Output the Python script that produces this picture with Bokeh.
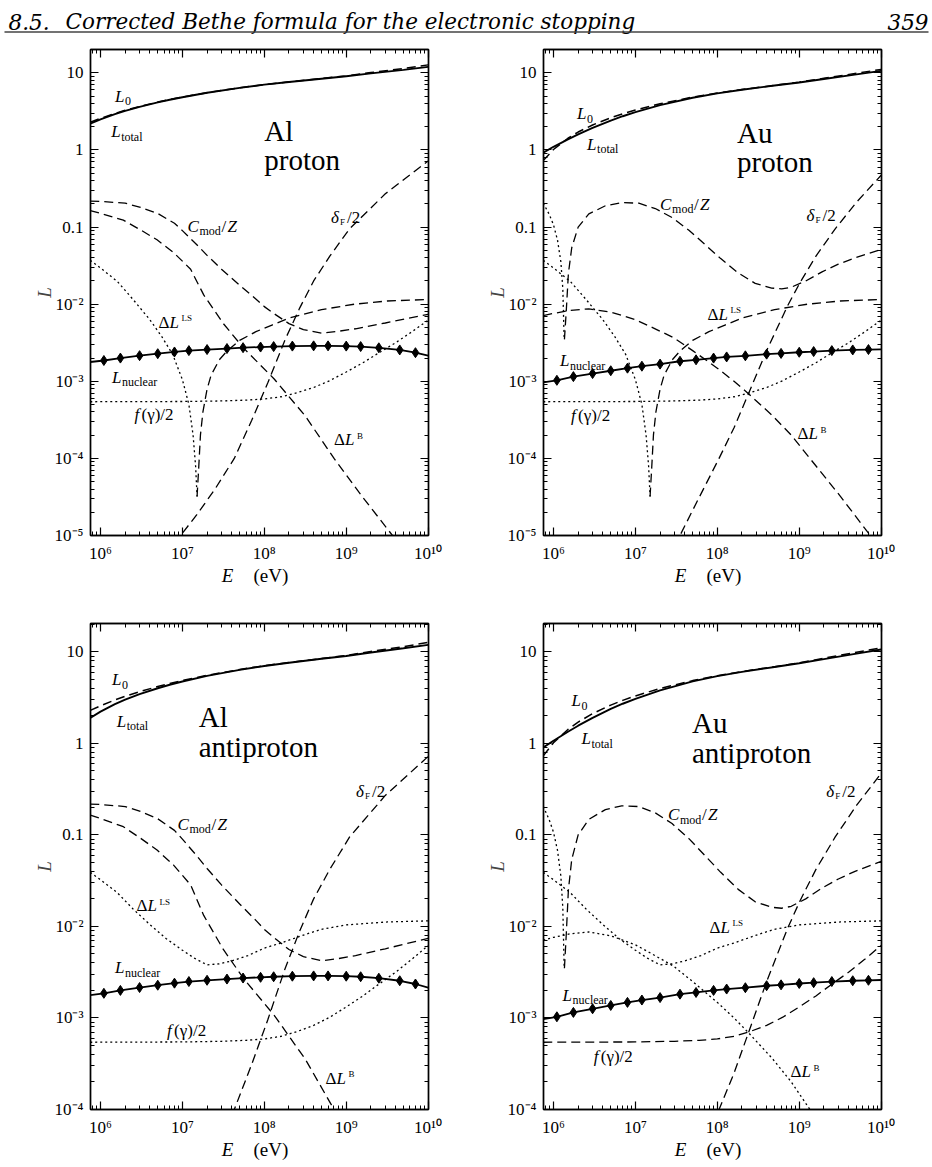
from bokeh.plotting import figure
from bokeh.models import LogAxis, FixedTicker, CustomJSTickFormatter, Range1d
from bokeh.layouts import column, row
from bokeh.embed import file_html
from bokeh.resources import INLINE
from bokeh.core.properties import value

FONT = "Liberation Serif"
HFONT = "DejaVu Serif"

# ---------------- axis ticks ----------------
X_TICKS = [1e6, 1e7, 1e8, 1e9, 1e10]
X_TICK_LABELS = ["10⁶", "10⁷", "10⁸", "10⁹", "10¹⁰"]
Y_TICKS_TOP = [1e-5, 1e-4, 1e-3, 1e-2, 0.1, 1, 10]
Y_TICK_LABELS_TOP = ["10⁻⁵", "10⁻⁴", "10⁻³", "10⁻²", "0.1", "1", "10"]
Y_TICKS_BOT = [1e-4, 1e-3, 1e-2, 0.1, 1, 10]
Y_TICK_LABELS_BOT = ["10⁻⁴", "10⁻³", "10⁻²", "0.1", "1", "10"]

# ---------------- data (E in eV) ----------------
E_L0 = [7.5e5, 1e6, 1.5e6, 2e6, 3e6, 5e6, 7e6, 1e7, 2e7, 5e7, 1e8, 2e8, 5e8, 1e9, 2e9, 5e9, 1e10]
AL_L0 = [2.29, 2.57, 2.98, 3.27, 3.67, 4.18, 4.51, 4.86, 5.54, 6.41, 7.05, 7.65, 8.45, 9.14, 10.1, 11.4, 12.7]
AL_P_LTOT = [2.20, 2.50, 2.92, 3.22, 3.63, 4.14, 4.48, 4.83, 5.52, 6.39, 7.03, 7.62, 8.40, 9.03, 9.85, 10.95, 11.95]
AL_PB_LTOT = [1.90, 2.22, 2.68, 3.00, 3.45, 4.00, 4.37, 4.74, 5.46, 6.36, 7.00, 7.60, 8.40, 9.02, 9.85, 10.95, 11.9]
AU_L0 = [0.73, 1.015, 1.42, 1.71, 2.11, 2.62, 2.95, 3.30, 3.98, 4.85, 5.49, 6.09, 6.89, 7.58, 8.52, 9.89, 11.08]
AU_P_LTOT = [0.92, 1.10, 1.37, 1.59, 1.93, 2.41, 2.74, 3.10, 3.81, 4.76, 5.43, 6.05, 6.85, 7.50, 8.33, 9.55, 10.6]
AU_PB_LTOT = [0.90, 1.07, 1.34, 1.56, 1.90, 2.38, 2.71, 3.07, 3.79, 4.75, 5.42, 6.04, 6.84, 7.50, 8.33, 9.55, 10.6]

AL_CMOD_E = [7.5e5, 1e6, 2e6, 3e6, 5e6, 8e6, 1e7, 1.5e7, 2e7, 3e7, 5e7, 8e7, 1e8, 1.3e8, 2e8, 3e8, 5e8, 8e8, 1.3e9, 3e9, 1e10]
AL_CMOD = [0.217, 0.215, 0.204, 0.182, 0.150, 0.112, 0.090, 0.059, 0.043, 0.0284, 0.0176, 0.0115, 0.0093, 0.0076,
           0.0056, 0.00468, 0.00422, 0.00445, 0.0048, 0.0057, 0.0074]

AL_BARKAS_E = [7.5e5, 1e6, 1.9e6, 3.1e6, 4.9e6, 7.8e6, 1.26e7, 1.82e7, 3.16e7, 5.6e7, 1.32e8, 3.16e8, 7.1e8, 1.58e9, 4e9]
AL_BARKAS = [0.164, 0.151, 0.123, 0.0916, 0.0684, 0.0468, 0.0284, 0.0132, 0.0056, 0.00269, 0.00107, 0.000355, 0.0001, 3.16e-5, 8.9e-6]

AL_DELTA_E = [8e6, 9.5e6, 1.5e7, 2.5e7, 4.3e7, 7e7, 1.1e8, 1.8e8, 2.7e8, 4e8, 6.3e8, 1.1e9, 3e9, 1e10]
AL_DELTA = [7.8e-6, 1.0e-5, 1.86e-5, 4.0e-5, 1.0e-4, 3.1e-4, 9.5e-4, 3.5e-3, 8.9e-3, 0.02, 0.042, 0.095, 0.27, 0.72]

FGAM_E = [7.5e5, 1e7, 3e7, 6e7, 1e8, 1.6e8, 2.5e8, 4e8, 6.3e8, 1e9, 1.6e9, 2.5e9, 4e9, 6.3e9, 1e10]
FGAM = [5.43e-4, 5.47e-4, 5.56e-4, 5.7e-4, 5.9e-4, 6.3e-4, 7.1e-4, 8.3e-4, 1.02e-3, 1.32e-3, 1.74e-3, 2.34e-3, 3.16e-3, 4.37e-3, 6.2e-3]

LS_P_NEG_E = [7.5e5, 1e6, 1.6e6, 2.5e6, 4e6, 5.6e6, 7.6e6, 1e7, 1.2e7, 1.35e7, 1.45e7, 1.51e7]
LS_P_NEG = [0.0372, 0.0295, 0.0198, 0.0115, 0.0063, 0.0038, 0.00224, 0.00105, 0.0005, 0.0002, 7.9e-5, 3.2e-5]
LS_P_POS_E = [1.51e7, 1.585e7, 1.66e7, 1.78e7, 2.0e7, 2.24e7, 2.82e7, 3.55e7, 5.0e7, 7.9e7, 1.26e8, 2.0e8, 5.0e8, 1.26e9, 3.16e9, 1e10]
LS_P_POS = [3.2e-5, 7.9e-5, 2.0e-4, 4.0e-4, 7.9e-4, 1.2e-3, 1.9e-3, 2.5e-3, 3.4e-3, 4.4e-3, 5.4e-3, 6.6e-3, 8.5e-3, 0.01, 0.011, 0.0115]

LS_PB_E = [7.5e5, 1e6, 1.6e6, 2.5e6, 4e6, 6.3e6, 1e7, 1.4e7, 2e7, 2.8e7, 4e7, 6.3e7, 1e8, 1.6e8, 3.2e8, 5e8, 1e9, 3.2e9, 1e10]
LS_PB = [0.039, 0.0324, 0.0234, 0.0155, 0.0105, 0.0074, 0.0055, 0.0045, 0.0038, 0.0039, 0.0042, 0.0048, 0.0058, 0.0066,
         0.0082, 0.0093, 0.0104, 0.0112, 0.0115]

AU_CMOD_NEG_E = [7.5e5, 8.9e5, 1e6, 1.12e6, 1.23e6, 1.3e6, 1.35e6]
AU_CMOD_NEG = [0.205, 0.145, 0.107, 0.0676, 0.0355, 0.0158, 0.0035]
AU_CMOD_POS_E = [1.36e6, 1.43e6, 1.52e6, 1.67e6, 2e6, 2.7e6, 4.3e6, 6.8e6, 1.1e7, 1.75e7, 2.8e7, 4.5e7, 7e7,
                 1.1e8, 1.8e8, 2.9e8, 4.6e8, 6.1e8, 8e8, 1.2e9, 1.9e9, 3e9, 4.8e9, 1e10]
AU_CMOD_POS = [0.0035, 0.008, 0.025, 0.054, 0.1, 0.148, 0.189, 0.208, 0.204, 0.174, 0.133, 0.091, 0.06,
               0.039, 0.0254, 0.0186, 0.0162, 0.0158, 0.0166, 0.020, 0.0263, 0.033, 0.04, 0.0513]

AU_BARKAS_E = [7.5e5, 1e6, 1.6e6, 2.7e6, 5e6, 1e7, 1.6e7, 2.9e7, 5e7, 1e8, 1.6e8, 2.4e8, 4.7e8, 8e8, 1.35e9, 3.2e9, 8e9]
AU_BARKAS = [7.1e-3, 7.6e-3, 8.3e-3, 8.7e-3, 7.9e-3, 6.3e-3, 5.0e-3, 3.7e-3, 2.5e-3, 1.48e-3, 1.0e-3, 6.9e-4, 3.6e-4, 2.0e-4, 1.0e-4, 3.2e-5, 8.9e-6]

AU_DELTA_E = [3.0e7, 3.5e7, 5.6e7, 1.05e8, 1.6e8, 2.4e8, 4e8, 7.2e8, 1.02e9, 1.6e9, 2.75e9, 5e9, 1e10]
AU_DELTA = [7.3e-6, 1e-5, 2.7e-5, 1e-4, 2.5e-4, 6.9e-4, 2.5e-3, 9.5e-3, 0.019, 0.042, 0.095, 0.21, 0.47]

NUC_E = [7.5e5, 1.1e6, 1.75e6, 3e6, 5e6, 8e6, 1.2e7, 2e7, 3.5e7, 5.5e7, 9e7, 1.3e8, 2.2e8, 4e8, 6e8, 1e9, 1.5e9, 2.5e9, 4.5e9, 7e9, 1e10]
AL_NUC = [1.78e-3, 1.86e-3, 2.0e-3, 2.15e-3, 2.28e-3, 2.4e-3, 2.5e-3, 2.58e-3, 2.66e-3, 2.73e-3, 2.78e-3, 2.82e-3, 2.86e-3,
          2.88e-3, 2.88e-3, 2.86e-3, 2.82e-3, 2.72e-3, 2.55e-3, 2.35e-3, 2.15e-3]
AU_NUC = [9.7e-4, 1.03e-3, 1.15e-3, 1.26e-3, 1.37e-3, 1.48e-3, 1.57e-3, 1.67e-3, 1.82e-3, 1.9e-3, 2.0e-3, 2.07e-3, 2.14e-3,
          2.25e-3, 2.3e-3, 2.38e-3, 2.43e-3, 2.5e-3, 2.55e-3, 2.58e-3, 2.6e-3]

# ---------------- label pieces: (text, style, size, dx, dy) ----------------
LBL = {
    "L0": [("L", "italic", 17, 0, 0), ("0", "normal", 12, 10, 5)],
    "Ltot": [("L", "italic", 17, 0, 0), ("total", "normal", 12, 10, 5)],
    "Lnuc": [("L", "italic", 17, 0, 0), ("nuclear", "normal", 12, 10, 5)],
    "Cmod": [("C", "italic", 17, 0, 0), ("mod", "normal", 12, 12, 5), ("/", "normal", 17, 34, 0), ("Z", "italic", 17, 40, 0)],
    "dF": [("δ", "italic", 17, 0, 0), ("F", "normal", 9, 9, 5), ("/2", "normal", 17, 16, 0)],
    "LS": [("Δ", "normal", 17, 0, 0), ("L", "italic", 17, 11, 0), ("LS", "normal", 9, 23, -4)],
    "B": [("Δ", "normal", 17, 0, 0), ("L", "italic", 17, 11, 0), ("B", "normal", 9, 23, -4)],
    "fg": [("f", "italic", 17, 0, 0), ("(γ)/2", "normal", 17, 7, 0)],
}

DASH = "9 5"
DOT = "2 3"

PANELS = [
    dict(title=["Al", "proton"], title_pos=(1.0e8, 1.74, 0.74), ymin=1e-5, ymax=20.1,
         curves=[(E_L0, AL_L0, "L0"), (E_L0, AL_P_LTOT, "tot"), (AL_CMOD_E, AL_CMOD, "dash"),
                 (AL_BARKAS_E, AL_BARKAS, "dash"), (AL_DELTA_E, AL_DELTA, "dash"), (FGAM_E, FGAM, "dot"),
                 (LS_P_NEG_E, LS_P_NEG, "dot"), (LS_P_POS_E, LS_P_POS, "dash")],
         nuc=AL_NUC,
         labels=[("L0", 1.5e6, 5.0), ("Ltot", 1.35e6, 1.73), ("Cmod", 1.15e7, 0.102), ("dF", 6.5e8, 0.135),
                 ("LS", 5.1e6, 0.0058), ("Lnuc", 1.38e6, 0.00112), ("fg", 2.6e6, 0.00037), ("B", 7.1e8, 0.000174)]),
    dict(title=["Au", "proton"], title_pos=(1.74e8, 1.66, 0.69), ymin=1e-5, ymax=20.1,
         curves=[(E_L0, AU_L0, "L0"), (E_L0, AU_P_LTOT, "tot"), (AU_CMOD_NEG_E, AU_CMOD_NEG, "dot"),
                 (AU_CMOD_POS_E, AU_CMOD_POS, "dash"), (AU_BARKAS_E, AU_BARKAS, "dash"),
                 (AU_DELTA_E, AU_DELTA, "dash"), (FGAM_E, FGAM, "dot"),
                 (LS_P_NEG_E, LS_P_NEG, "dot"), (LS_P_POS_E, LS_P_POS, "dash")],
         nuc=AU_NUC,
         labels=[("L0", 1.93e6, 2.93), ("Ltot", 2.57e6, 1.18), ("Cmod", 2.0e7, 0.197), ("dF", 1.23e9, 0.143),
                 ("LS", 7.6e7, 0.0074), ("Lnuc", 1.2e6, 0.00186), ("fg", 1.64e6, 0.00036), ("B", 9.5e8, 0.00021)]),
    dict(title=["Al", "antiproton"], title_pos=(1.58e7, 1.92, 0.91), ymin=1e-4, ymax=20.4,
         curves=[(E_L0, AL_L0, "L0"), (E_L0, AL_PB_LTOT, "tot"), (AL_CMOD_E, AL_CMOD, "dash"),
                 (AL_BARKAS_E, AL_BARKAS, "dash"), (AL_DELTA_E, AL_DELTA, "dash"), (FGAM_E, FGAM, "dot"),
                 (LS_PB_E, LS_PB, "dot")],
         nuc=AL_NUC,
         labels=[("L0", 1.38e6, 4.94), ("Ltot", 1.58e6, 1.75), ("Cmod", 8.7e6, 0.131), ("dF", 1.32e9, 0.30),
                 ("LS", 2.75e6, 0.0168), ("Lnuc", 1.5e6, 0.00355), ("fg", 6.5e6, 0.00073), ("B", 5.6e8, 0.00022)]),
    dict(title=["Au", "antiproton"], title_pos=(4.9e7, 1.67, 0.79), ymin=1e-4, ymax=20.4,
         curves=[(E_L0, AU_L0, "L0"), (E_L0, AU_PB_LTOT, "tot"), (AU_CMOD_NEG_E, AU_CMOD_NEG, "dot"),
                 (AU_CMOD_POS_E, AU_CMOD_POS, "dash"), (AU_BARKAS_E, AU_BARKAS, "dot"),
                 (AU_DELTA_E, AU_DELTA, "dash"), (FGAM_E, FGAM, "dash"), (LS_PB_E, LS_PB, "dot")],
         nuc=AU_NUC,
         labels=[("L0", 1.66e6, 2.92), ("Ltot", 2.19e6, 1.12), ("Cmod", 2.5e7, 0.166), ("dF", 2.14e9, 0.30),
                 ("LS", 8.0e7, 0.0098), ("Lnuc", 1.29e6, 0.00178), ("fg", 3.1e6, 0.00038), ("B", 7.8e8, 0.00026)]),
]

FMT_CODE = """
const e = Math.round(Math.log10(tick));
for (let i = 0; i < tv.length; i++) {
  if (Math.round(Math.log10(tv[i])) == e) { return labels[i]; }
}
return "";
"""
EMPTY_FMT = "return '';"

X_MINOR = [m * 10.0 ** k for k in range(5, 11) for m in range(2, 10)]
Y_MINOR = [m * 10.0 ** k for k in range(-6, 2) for m in range(2, 10)]


def style_axis(ax, ticker, formatter):
    ax.ticker = ticker
    ax.formatter = formatter
    ax.major_tick_in = 8
    ax.major_tick_out = 0
    ax.minor_tick_in = 4
    ax.minor_tick_out = 0
    ax.major_tick_line_width = 1.2
    ax.minor_tick_line_width = 1
    ax.axis_line_width = 1.4
    ax.axis_line_color = "black"
    ax.major_tick_line_color = "black"
    ax.minor_tick_line_color = "black"
    ax.major_label_text_font = FONT
    ax.major_label_text_font_size = "17px"
    ax.major_label_text_color = "black"


def make_panel(spec, left_col, top_row):
    ymin, ymax = spec["ymin"], spec["ymax"]
    p = figure(x_axis_type="log", y_axis_type="log",
               x_range=Range1d(7.55e5, 1.01e10), y_range=Range1d(ymin, ymax),
               frame_width=338, frame_height=486,
               min_border_left=90 if left_col else 77, min_border_right=38 if left_col else 51,
               min_border_top=9 if top_row else 22, min_border_bottom=29,
               output_backend="svg", toolbar_location=None)
    p.grid.visible = False
    p.outline_line_color = "black"
    p.outline_line_width = 1.4
    p.background_fill_color = "white"
    p.border_fill_color = "white"

    yt = Y_TICKS_TOP if top_row else Y_TICKS_BOT
    yl = Y_TICK_LABELS_TOP if top_row else Y_TICK_LABELS_BOT
    xticker = FixedTicker(ticks=X_TICKS, minor_ticks=X_MINOR)
    yticker = FixedTicker(ticks=yt, minor_ticks=Y_MINOR)

    style_axis(p.xaxis[0], xticker, CustomJSTickFormatter(args=dict(tv=X_TICKS, labels=X_TICK_LABELS), code=FMT_CODE))
    style_axis(p.yaxis[0], yticker, CustomJSTickFormatter(args=dict(tv=yt, labels=yl), code=FMT_CODE))
    p.xaxis[0].major_label_standoff = 8
    p.yaxis[0].major_label_standoff = 7
    p.yaxis[0].axis_label = "L"
    p.yaxis[0].axis_label_text_font = FONT
    p.yaxis[0].axis_label_text_font_style = "italic"
    p.yaxis[0].axis_label_text_font_size = "19px"
    p.yaxis[0].axis_label_standoff = -3

    top = LogAxis()
    style_axis(top, xticker, CustomJSTickFormatter(code=EMPTY_FMT))
    top.major_label_standoff = 0
    p.add_layout(top, "above")
    right = LogAxis()
    style_axis(right, yticker, CustomJSTickFormatter(code=EMPTY_FMT))
    right.major_label_standoff = 0
    p.add_layout(right, "right")

    for xs, ys, kind in spec["curves"]:
        if kind == "tot":
            p.line(xs, ys, line_color="black", line_width=1.9)
        elif kind == "L0":
            p.line(xs, ys, line_color="black", line_width=1.5, line_dash=DASH)
        elif kind == "dash":
            p.line(xs, ys, line_color="black", line_width=1.3, line_dash=DASH)
        else:
            p.line(xs, ys, line_color="black", line_width=1.3, line_dash=DOT)

    nuc = spec["nuc"]
    p.line(NUC_E, nuc, line_color="black", line_width=1.8)
    p.scatter(NUC_E[1:-1], nuc[1:-1], marker="diamond", size=10, color="black")

    for key, ex, ly in spec["labels"]:
        for txt, style, size, dx, dy in LBL[key]:
            p.text(x=[ex], y=[ly], text=[txt], x_offset=dx, y_offset=dy,
                   text_font=value(FONT), text_font_size=value(f"{size}px"),
                   text_font_style=value(style), text_color="black",
                   text_align="left", text_baseline="middle")

    tx, ty1, ty2 = spec["title_pos"]
    for line_txt, yy in zip(spec["title"], [ty1, ty2]):
        p.text(x=[tx], y=[yy], text=[line_txt], text_font=value(FONT), text_font_size=value("29px"),
               text_color="black", text_align="left", text_baseline="middle")
    return p


def make_strip(height):
    s = figure(frame_width=932, frame_height=height, x_range=Range1d(0, 932), y_range=Range1d(height, 0),
               min_border=0, x_axis_location=None, y_axis_location=None,
               output_backend="svg", toolbar_location=None)
    s.grid.visible = False
    s.outline_line_color = None
    for x0 in (227, 680):
        s.text(x=[x0], y=[10], text=["E"], text_font=value(FONT), text_font_size=value("19px"),
               text_font_style=value("italic"), text_color="black", text_align="center", text_baseline="middle")
        s.text(x=[x0 + 26], y=[10], text=["(eV)"], text_font=value(FONT), text_font_size=value("19px"),
               text_color="black", text_align="left", text_baseline="middle")
    return s


# ---------------- header ----------------
HEADER_SECTION = "8.5."
HEADER_TITLE = "Corrected Bethe formula for the electronic stopping"
HEADER_PAGE = "359"

hdr = figure(frame_width=932, frame_height=40, x_range=Range1d(0, 932), y_range=Range1d(40, 0),
             min_border=0, x_axis_location=None, y_axis_location=None,
             output_backend="svg", toolbar_location=None)
hdr.grid.visible = False
hdr.outline_line_color = None
for txt, xx, al in [(HEADER_SECTION, 8, "left"), (HEADER_TITLE, 65, "left"), (HEADER_PAGE, 928, "right")]:
    hdr.text(x=[xx], y=[21], text=[txt], text_font=value(HFONT), text_font_size=value("21.5px"),
             text_font_style=value("italic"), text_color="black", text_align=al, text_baseline="alphabetic")
hdr.segment(x0=[4], y0=[31.5], x1=[928], y1=[31.5], line_color="#444444", line_width=1.5)

p1 = make_panel(PANELS[0], True, True)
p2 = make_panel(PANELS[1], False, True)
p3 = make_panel(PANELS[2], True, False)
p4 = make_panel(PANELS[3], False, False)

layout = column(hdr, row(p1, p2), make_strip(36), row(p3, p4), make_strip(30))
open("out.html", "w").write(file_html(layout, INLINE))
